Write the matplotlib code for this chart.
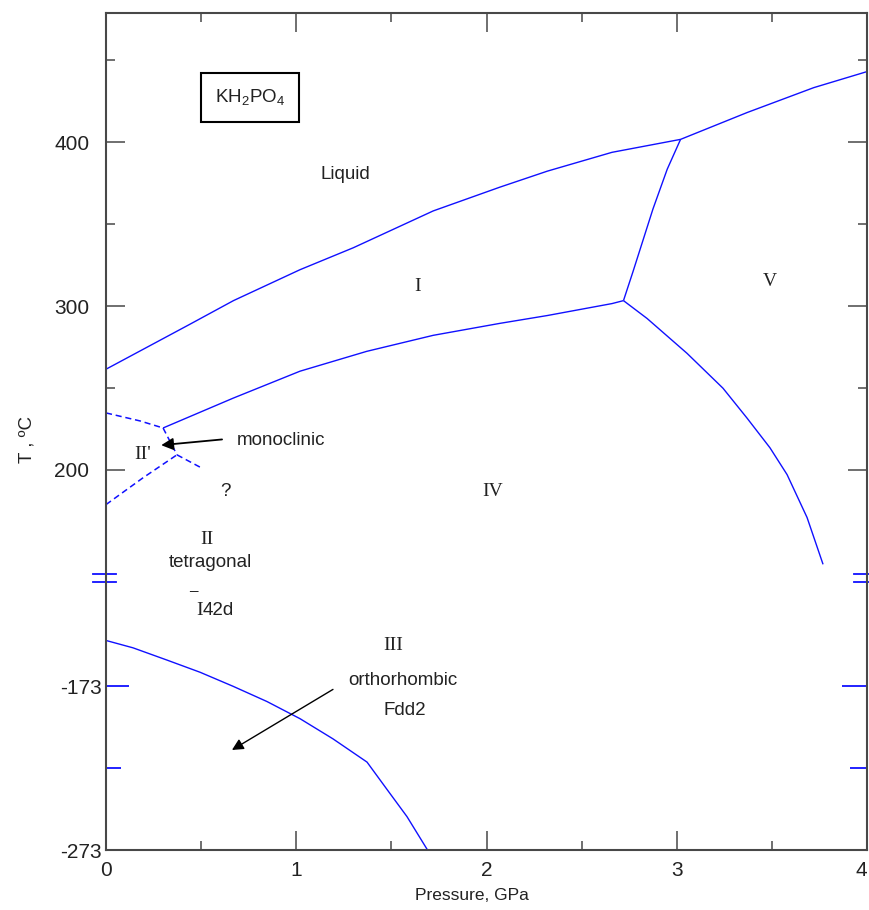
import matplotlib.pyplot as plt
import numpy as np
from matplotlib import transforms

plt.rcParams["font.family"] = ["Liberation Sans", "DejaVu Sans"]
plt.rcParams["mathtext.fontset"] = "custom"
plt.rcParams["mathtext.rm"] = "Liberation Sans"

# Phase boundaries of KH2PO4: pressure in GPa, temperature in degC
melt_p = [0.0, 0.44, 0.67, 1.02, 1.30, 1.72, 2.07, 2.32, 2.66, 3.02, 3.37, 3.72, 4.0]
melt_t = [261.4, 288.8, 303.3, 322.2, 335.6, 358.1, 372.6, 382.4, 393.9, 401.8, 418.2, 433.4, 443.2]

i_iv_p = [0.30, 0.67, 1.02, 1.37, 1.72, 2.07, 2.32, 2.66, 2.72]
i_iv_t = [225.5, 243.8, 260.2, 272.3, 282.1, 289.4, 294.2, 301.5, 303.3]

i_v_p = [2.72, 2.77, 2.875, 2.95, 3.02]
i_v_t = [303.3, 321.0, 359.3, 383.6, 401.8]

iv_v_p = [2.72, 2.844, 3.054, 3.243, 3.369, 3.490, 3.580, 3.685, 3.769]
iv_v_t = [303.3, 292.4, 271.1, 249.8, 231.6, 213.4, 197.0, 170.8, 142.2]

ii_iii_p = [0.0, 0.142, 0.321, 0.494, 0.668, 0.846, 1.020, 1.193, 1.372, 1.477, 1.582, 1.69]
ii_iii_t = [-145.0, -149.5, -157.0, -164.4, -173.0, -182.3, -192.8, -205.1, -219.3, -236.0, -252.6, -273.0]

# uncertain boundaries around the monoclinic II' field
mono_lines = [
    ([0.0, 0.179, 0.30], [234.7, 229.8, 225.5]),
    ([0.30, 0.373], [225.5, 209.1]),
    ([0.0, 0.195, 0.373], [178.7, 195.1, 209.1]),
    ([0.373, 0.51], [209.1, 200.6]),
]

phase_names = [("I", 1.64, 312.0), ("V", 3.49, 315.0), ("IV", 2.03, 187.0),
               ("II'", 0.195, 209.0), ("II", 0.53, 157.5), ("III", 1.51, -148.3)]
notes = [("Liquid", 1.26, 380.5), ("?", 0.63, 186.5), ("tetragonal", 0.547, 143.5),
         ("orthorhombic", 1.56, -169.3), ("Fdd2", 1.57, -187.8)]

# temperatures between these two are cut out of the axis
GAP_LO, GAP_HI = -107.0, 133.7


def fold(t):
    t = np.asarray(t, dtype=float)
    return np.where(t >= GAP_HI, t, np.where(t <= GAP_LO, t + (GAP_HI - GAP_LO), GAP_HI))


def unfold(y):
    y = np.asarray(y, dtype=float)
    return np.where(y >= GAP_HI, y, y - (GAP_HI - GAP_LO))


blue = "#1010ff"
ink = "#222222"
frame = "#484848"

fig = plt.figure(figsize=(8.69, 9.10), dpi=100)
ax = fig.add_axes([106 / 869, 60 / 910, 761 / 869, 837 / 910])
ax.set_yscale("function", functions=(fold, unfold))
ax.set_xlim(0, 4)
ax.set_ylim(-273, 479)

for p, t in [(melt_p, melt_t), (i_iv_p, i_iv_t), (i_v_p, i_v_t),
             (iv_v_p, iv_v_t), (ii_iii_p, ii_iii_t)]:
    ax.plot(p, t, color=blue, lw=1.0, solid_capstyle="butt")
for p, t in mono_lines:
    ax.plot(p, t, color=blue, lw=1.1, linestyle=(0, (4, 2.5)))

for name, p, t in phase_names:
    ax.text(p, t, name, family="Liberation Serif", fontsize=14, color=ink,
            ha="center", va="center")
for name, p, t in notes:
    ax.text(p, t, name, fontsize=13.5, color=ink, ha="center", va="center")

# space group I-42d, with the bar drawn over the lattice symbol
ax.text(0.51, -126.5, "I", family="Liberation Serif", fontsize=14, color=ink,
        ha="right", va="center")
ax.text(0.51, -126.5, "42d", fontsize=13.5, color=ink, ha="left", va="center")
ax.text(0.46, -119.0, "\u00af", fontsize=11, color=ink, ha="center", va="center")

ax.text(0.757, 427.4, r"KH$_\mathrm{2}$PO$_\mathrm{4}$", fontsize=13.5, color=ink,
        ha="center", va="center",
        bbox=dict(boxstyle="square,pad=0.75", fc="white", ec="black", lw=1.5))

ax.text(0.69, 218.0, "monoclinic", fontsize=13.5, color=ink, ha="left", va="center")
ax.annotate("", xy=(0.29, 215.0), xytext=(0.61, 218.5),
            arrowprops=dict(arrowstyle="-|>", color="black", lw=1.3,
                            mutation_scale=18, shrinkA=0, shrinkB=0))
ax.annotate("", xy=(0.662, -211.9), xytext=(1.193, -174.9),
            arrowprops=dict(arrowstyle="-|>", color="black", lw=1.0,
                            mutation_scale=17, shrinkA=0, shrinkB=0))

# axis ticks
ax.set_xticks([0, 1, 2, 3, 4])
ax.set_xticks([0.5, 1.5, 2.5, 3.5], minor=True)
ax.set_yticks([-273, -173, 200, 300, 400], labels=["-273", "-173", "200", "300", "400"])
ax.set_yticks([-223, 250, 350, 450], minor=True)
ax.tick_params(which="both", direction="in", top=True, right=True,
               color=frame, width=1.1, labelsize=15, labelcolor=ink)
ax.tick_params(which="major", length=13.7)
ax.tick_params(which="minor", length=6.5)
ax.tick_params(axis="x", pad=8)
ax.tick_params(axis="y", pad=12)
ax.get_xticklabels()[-1].set_horizontalalignment("right")

yt = ax.yaxis.get_major_ticks()
for tk in yt[:2]:
    tk.set_pad(3)
yt[0].tick1line.set_visible(False)
yt[0].tick2line.set_visible(False)
ym = ax.yaxis.get_minor_ticks()
# the marks below the break are drawn in blue
for ln, size in [(yt[1].tick1line, 16.5), (yt[1].tick2line, 18),
                 (ym[0].tick1line, 11), (ym[0].tick2line, 12)]:
    ln.set_markeredgecolor(blue)
    ln.set_markeredgewidth(1.3)
    ln.set_markersize(size)

for sp in ax.spines.values():
    sp.set_color(frame)
    sp.set_linewidth(1.5)

# double marks where the temperature axis is broken
brk = transforms.blended_transform_factory(ax.transAxes, ax.transData)
for dy in (-4, 4):
    shifted = brk + transforms.ScaledTranslation(0, -dy / 100, fig.dpi_scale_trans)
    for x0, x1 in [(-0.017, 0.013), (0.983, 1.002)]:
        ax.plot([x0, x1], [GAP_HI, GAP_HI], color=blue, lw=1.3,
                transform=shifted, clip_on=False)

ax.set_xlabel("Pressure, GPa", fontsize=12.5, color=ink)
ax.xaxis.set_label_coords(0.481, -0.045)
ax.set_ylabel("T , \u00baC", fontsize=13.5, color=ink)
ax.yaxis.set_label_coords(-0.093, 0.49)

fig.savefig("out.png", dpi=100)
